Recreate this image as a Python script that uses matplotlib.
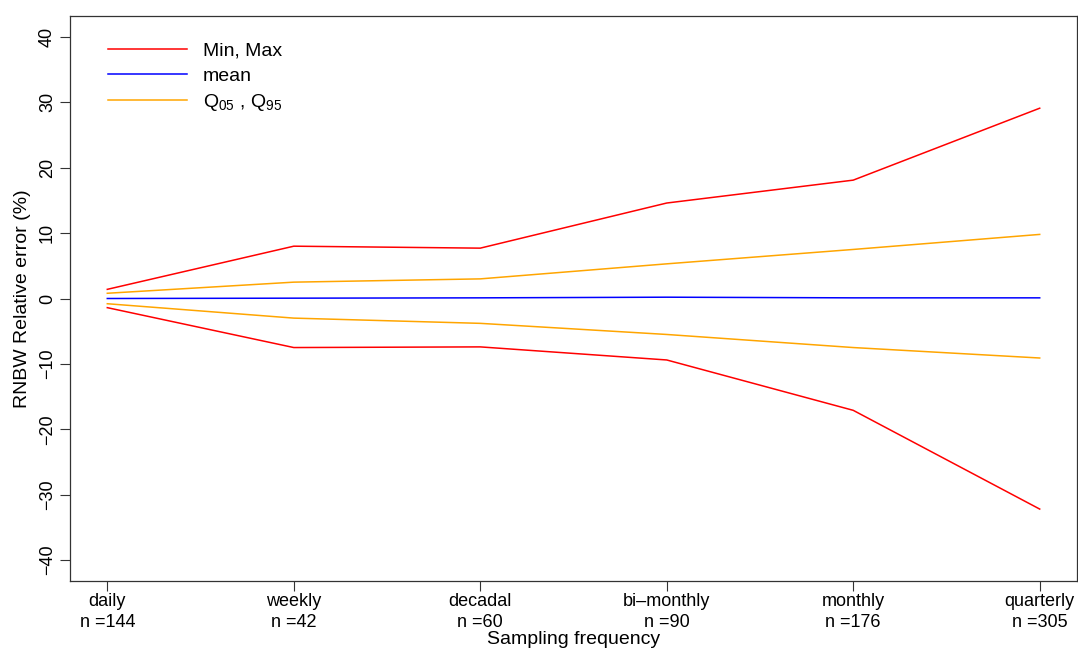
import matplotlib
matplotlib.use("Agg")
import matplotlib.pyplot as plt

plt.rcParams['font.family'] = ['Liberation Sans', 'DejaVu Sans']
plt.rcParams['mathtext.fontset'] = 'custom'
plt.rcParams['mathtext.rm'] = 'Liberation Sans'
plt.rcParams['mathtext.it'] = 'Liberation Sans'

categories = ["daily", "weekly", "decadal", "bi\u2013monthly", "monthly", "quarterly"]
n_counts = [144, 42, 60, 90, 176, 305]
max_vals = [1.4, 8.0, 7.7, 14.6, 18.1, 29.1]
min_vals = [-1.4, -7.5, -7.4, -9.4, -17.1, -32.2]
q95_vals = [0.8, 2.5, 3.0, 5.3, 7.5, 9.8]
q05_vals = [-0.8, -3.0, -3.8, -5.5, -7.5, -9.1]
mean_vals = [0.0, 0.05, 0.1, 0.2, 0.1, 0.1]
y_ticks = [-40, -30, -20, -10, 0, 10, 20, 30, 40]

fig = plt.figure(figsize=(10.78, 6.5), dpi=100)
ax = fig.add_axes([70/1078, 1-581/650, 1007/1078, 565/650])

x = list(range(1, len(categories) + 1))
lw = 1.1
ax.plot(x, max_vals, color="#FF0000", lw=lw, label="Min, Max")
ax.plot(x, min_vals, color="#FF0000", lw=lw)
ax.plot(x, mean_vals, color="#0000FF", lw=lw, label="mean")
ax.plot(x, q95_vals, color="#FFA500", lw=lw, label="Q$_{05}$ , Q$_{95}$")
ax.plot(x, q05_vals, color="#FFA500", lw=lw)

ax.set_xlim(0.8, 6.2)
ax.set_ylim(-43.2, 43.2)
ax.set_xticks(x)
ax.set_xticklabels([f"{c}\nn ={n}" for c, n in zip(categories, n_counts)],
                   fontsize=13, linespacing=1.25)
ax.set_yticks(y_ticks)
ax.set_yticklabels([str(t).replace("-", "\u2212") for t in y_ticks],
                   fontsize=13, rotation=90, va="center")
ax.tick_params(direction="out", length=7, width=0.8, color="#333333", pad=2)
ax.tick_params(axis="y", pad=3)
for s in ax.spines.values():
    s.set_linewidth(0.9)
    s.set_color("#333333")

ax.set_ylabel("RNBW Relative error (%)", fontsize=14, labelpad=6)
ax.set_xlabel("Sampling frequency", fontsize=14, labelpad=0.5)

ax.legend(loc="upper left", bbox_to_anchor=(0.02, 0.985), frameon=False, fontsize=14,
          handlelength=4.1, handletextpad=0.8, labelspacing=0.38)

fig.savefig("out.png", dpi=100)
